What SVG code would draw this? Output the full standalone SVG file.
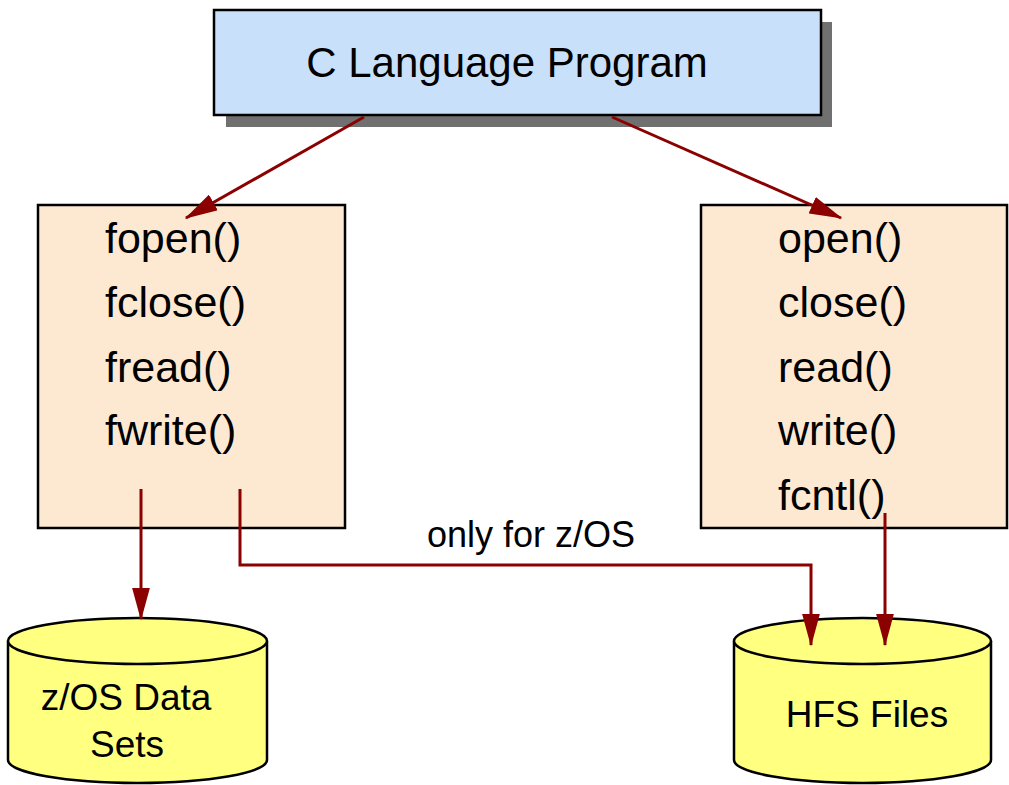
<svg xmlns="http://www.w3.org/2000/svg" width="1009" height="785" viewBox="0 0 1009 785">
<style>
text{font-family:"Liberation Sans",Arial,sans-serif;fill:#000}
.box{stroke:#000;stroke-width:2.5}
.fn{font-size:43px}
.cyl{fill:#FFFF80;stroke:#000;stroke-width:2.5}
.cl{font-size:37px;text-anchor:middle}
.conn{fill:none;stroke:#8B0000;stroke-width:3}
</style>
<defs>
<marker id="ah" viewBox="0 0 11 6" refX="10.5" refY="3" markerWidth="11" markerHeight="6" markerUnits="strokeWidth" orient="auto">
<path d="M0,0 L11,3 L0,6 z" fill="#8B0000"/>
</marker>
</defs>
<rect width="1009" height="785" fill="#fff"/>
<g id="c-program">
<rect x="226" y="22" width="606" height="105" fill="#707070"/>
<rect class="box" x="214" y="10" width="607" height="105" fill="#C8E0FA"/>
<text x="507" y="77" font-size="42" text-anchor="middle">C Language Program</text>
</g>
<g id="stdio-funcs">
<rect class="box" x="38" y="205" width="307" height="323" fill="#FDE9D2"/>
<text class="fn" x="105" y="253">fopen()</text>
<text class="fn" x="105" y="317">fclose()</text>
<text class="fn" x="105" y="382">fread()</text>
<text class="fn" x="105" y="445">fwrite()</text>
</g>
<g id="posix-funcs">
<rect class="box" x="701" y="205" width="306" height="323" fill="#FDE9D2"/>
<text class="fn" x="778" y="253">open()</text>
<text class="fn" x="778" y="317">close()</text>
<text class="fn" x="778" y="382">read()</text>
<text class="fn" x="778" y="445">write()</text>
<text class="fn" x="778" y="510">fcntl()</text>
</g>
<g id="zos-datasets">
<path class="cyl" d="M8,641 L8,760 A129.5,23 0 0 0 267,760 L267,641"/>
<ellipse class="cyl" cx="137.5" cy="641" rx="129.5" ry="23"/>
<text class="cl" x="126" y="710">z/OS Data</text>
<text class="cl" x="127" y="757">Sets</text>
</g>
<g id="hfs-files">
<path class="cyl" d="M734,641 L734,760 A128.5,23 0 0 0 991,760 L991,641"/>
<ellipse class="cyl" cx="862.5" cy="641" rx="128.5" ry="23"/>
<text class="cl" x="867" y="727">HFS Files</text>
</g>
<g id="connectors">
<line class="conn" x1="364" y1="117" x2="186" y2="218" marker-end="url(#ah)"/>
<line class="conn" x1="612" y1="117" x2="841" y2="218" marker-end="url(#ah)"/>
<line class="conn" x1="141" y1="489" x2="141" y2="619" marker-end="url(#ah)"/>
<polyline class="conn" points="240,489 240,565 811,565 811,645" marker-end="url(#ah)"/>
<line class="conn" x1="885" y1="513" x2="885" y2="645" marker-end="url(#ah)"/>
<text x="531" y="547" font-size="36" text-anchor="middle">only for z/OS</text>
</g>
</svg>
